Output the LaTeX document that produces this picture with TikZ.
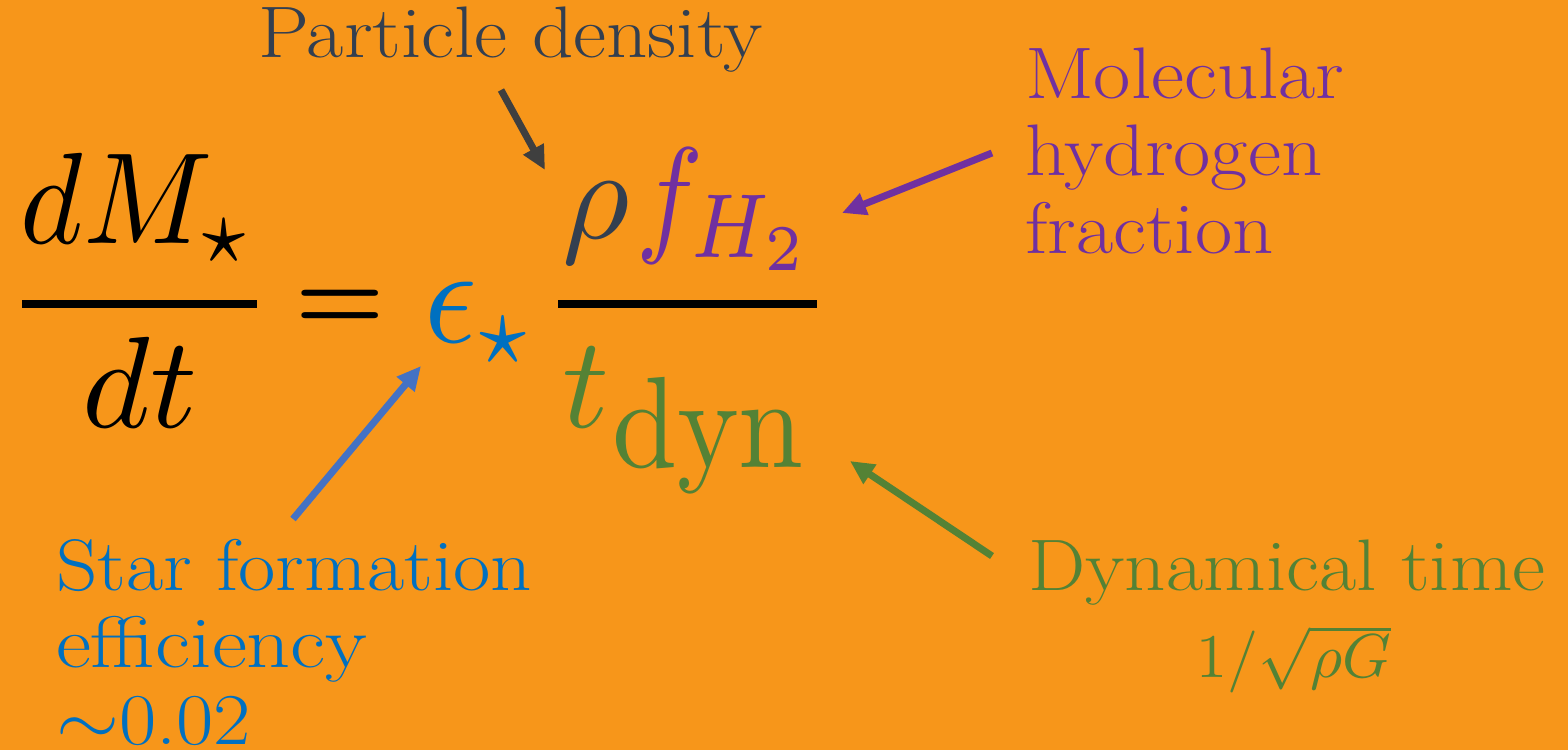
\documentclass[tikz,border=0pt]{standalone}
\usepackage{amsmath}
\usetikzlibrary{arrows.meta}
\definecolor{bgor}{HTML}{F7961A}
\definecolor{slate}{HTML}{333F50}
\definecolor{agray}{HTML}{3F3F3F}
\definecolor{purp}{HTML}{7030A0}
\definecolor{blu}{HTML}{0070C0}
\definecolor{ablu}{HTML}{4472C4}
\definecolor{grn}{HTML}{548235}
\newcommand{\eqbig}[1]{\scalebox{13}{\fontsize{10}{12}\selectfont #1}}
\newcommand{\eqbigx}[2]{\scalebox{#1}[13]{\fontsize{10}{12}\selectfont #2}}
\newcommand{\wtxt}[1]{\scalebox{1.11}[1]{#1}}
\tikzset{
 lbl/.style={inner sep=0pt, outer sep=0pt, anchor=base west, font=\fontsize{73}{77}\selectfont},
 big/.style={inner sep=0pt, outer sep=0pt, anchor=base west},
 arr/.style={line width=7pt, -{Triangle[length=24pt,width=22pt]}},
 barline/.style={line width=8pt},
}
\begin{document}
\begin{tikzpicture}[x=1pt,y=-1pt]
\fill[bgor] (0,0) rectangle (1568,750);
\useasboundingbox (0,0) rectangle (1568,750);
% left fraction
\node[big, anchor=base] (num) at (138,243) {\eqbigx{12}{$dM_\star$}};
\node[big, anchor=base] (den) at (140,427) {\eqbig{$dt$}};
\coordinate (b1l) at (22,304); \coordinate (b1r) at (257,304);
\draw[barline] (b1l) -- (b1r);
\node[big, anchor=base] (eq) at (340.5,329) {\scalebox{10}{\fontsize{10}{12}\selectfont\boldmath$=$}};
\node[big, text=blu] (eps) at (424,342) {\scalebox{13}[14]{\fontsize{10}{12}\selectfont$\epsilon_\star$}};
% right fraction
\node[big, text=slate] (rho) at (562,238) {\eqbig{$\rho$}};
\node[big, text=purp] (fh) at (636,238) {\eqbigx{11.2}{$f_{H_2}$}};
\coordinate (b2l) at (558,304); \coordinate (b2r) at (817,304);
\draw[barline] (b2l) -- (b2r);
\node[big, text=grn] (t) at (562,427) {\eqbig{$t$}};
\node[big, text=grn] (dyn) at (612,467) {\scalebox{11.7}[13]{\fontsize{10}{12}\selectfont dyn}};
% labels
\node[lbl, text=slate] (pd) at (258,57) {\wtxt{Particle density}};
\node[lbl, text=purp] (mol1) at (1025,98) {\wtxt{Molecular}};
\node[lbl, text=purp] (mol2) at (1025,175) {\wtxt{hydrogen}};
\node[lbl, text=purp] (mol3) at (1025,253) {\wtxt{fraction}};
\node[lbl, text=blu] (sf1) at (56,590) {\wtxt{Star formation}};
\node[lbl, text=blu] (sf2) at (56,667) {\scalebox{1.18}[1]{efficiency}};
\node[lbl, text=blu] (sf3) at (56,744) {\wtxt{\scalebox{7.3}{\fontsize{10}{12}\selectfont$\sim$}0.02}};
\node[lbl, text=grn, anchor=base] (dt1) at (1287,590) {\wtxt{Dynamical time}};
\node[lbl, text=grn, anchor=base] (dt2) at (1294,677) {\scalebox{6.2}{\fontsize{10}{12}\selectfont$1/\sqrt{\rho G}$}};
% arrows
\coordinate (a1s) at (501,90); \coordinate (a1e) at (545,170);
\draw[arr, agray] (a1s) -- (a1e);
\coordinate (a2s) at (992,153); \coordinate (a2e) at (842,213);
\draw[arr, purp] (a2s) -- (a2e);
\coordinate (a3s) at (293,519); \coordinate (a3e) at (421,366);
\draw[arr, ablu] (a3s) -- (a3e);
\coordinate (a4s) at (992,556); \coordinate (a4e) at (850,461);
\draw[arr, grn] (a4s) -- (a4e);
\end{tikzpicture}
\end{document}
